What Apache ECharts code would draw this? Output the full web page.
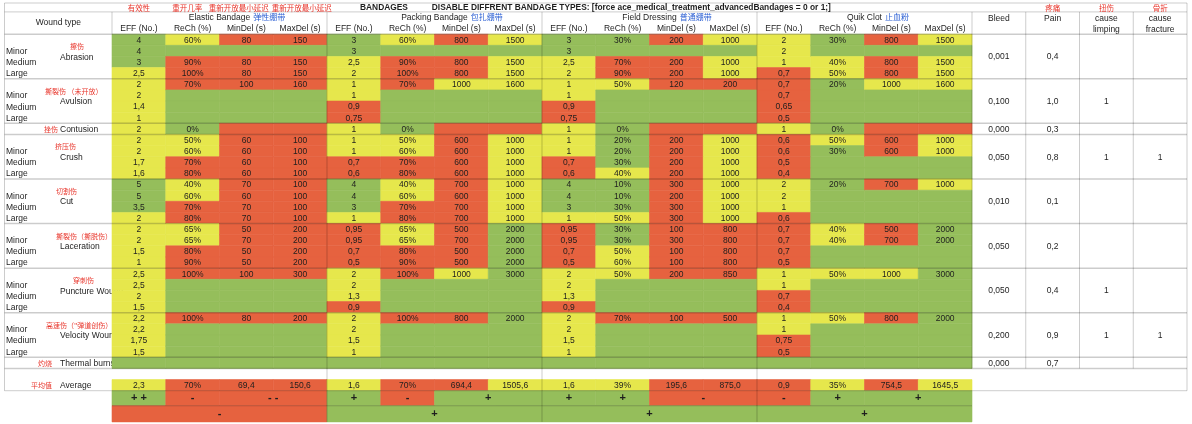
<!DOCTYPE html>
<html>
<head>
<meta charset="utf-8">
<script src="https://cdn.jsdelivr.net/npm/echarts@6.0.0/dist/echarts.min.js"></script>
<style>
	html, body { margin: 0; padding: 0; background: #fff; }
	#chart { width: 1192px; height: 424px; }
</style>
</head>
<body>
<div id="chart"></div>
<script>
const _ = null

// Rows of the sheet
const woundTypes = ['Abrasion', 'Avulsion', 'Contusion', 'Crush', 'Cut', 'Laceration', 'Puncture Wound', 'Velocity Wound', 'Thermal burns']
const woundTypesCn = ['擦伤', '撕裂伤 （未开放）', '挫伤', '挤压伤', '切割伤', '撕裂伤（撕脱伤）', '穿刺伤', '高速伤（"弹道创伤）', '灼烧']
const woundRows = [4, 4, 1, 4, 4, 4, 4, 4, 1]
const severities = ['Minor', 'Medium', 'Large']

// Column groups
const bandages = ['Elastic Bandage', 'Packing Bandage', 'Field Dressing', 'Quik Clot']
const bandagesCn = ['弹性绷带', '包扎绷带', '普通绷带', '止血粉']
const metrics = ['EFF (No.)', 'ReCh (%)', 'MinDel (s)', 'MaxDel (s)']
const metricsCn = ['有效性', '重开几率', '重新开放最小延迟', '重新开放最小延迟']
const effects = [['Bleed'], ['Pain'], ['cause', 'limping'], ['cause', 'fracture']]
const effectsCn = ['', '疼痛', '扭伤', '骨折']

// Elastic Bandage (ratings: g = green, y = yellow, r = red)
const elasticEff = [4, 4, 3, 2.5, 2, 2, 1.4, 1, 2, 2, 2, 1.7, 1.6, 5, 5, 3.5, 2, 2, 2, 1.5, 1, 2.5, 2.5, 2, 1.5, 2.2, 2.2, 1.75, 1.5, _]
const elasticEffRating = 'gggy yyyy y yyyy gggy yyyy yyyy yyyy g'
const elasticReCh = [60, _, 90, 100, 70, _, _, _, 0, 50, 60, 70, 80, 40, 60, 70, 80, 65, 65, 80, 90, 100, _, _, _, 100, _, _, _, _]
const elasticReChRating = 'ygrr rggg g yyrr yyrr yyrr rggg rggg g'
const elasticMinDel = [80, _, 80, 80, 100, _, _, _, _, 60, 60, 60, 60, 70, 60, 70, 70, 50, 70, 50, 50, 100, _, _, _, 80, _, _, _, _]
const elasticMinDelRating = 'rgrr rggg r rrrr rrrr rrrr rggg rggg g'
const elasticMaxDel = [150, _, 150, 150, 160, _, _, _, _, 100, 100, 100, 100, 100, 100, 100, 100, 200, 200, 200, 200, 300, _, _, _, 200, _, _, _, _]
const elasticMaxDelRating = 'rgrr rggg r rrrr rrrr rrrr rggg rggg g'

// Packing Bandage
const packingEff = [3, 3, 2.5, 2, 1, 1, 0.9, 0.75, 1, 1, 1, 0.7, 0.6, 4, 4, 3, 1, 0.95, 0.95, 0.7, 0.5, 2, 2, 1.3, 0.9, 2, 2, 1.5, 1, _]
const packingEffRating = 'ggyy yyrr y yyrr gggy rrrr yyyr yyyy g'
const packingReCh = [60, _, 90, 100, 70, _, _, _, 0, 50, 60, 70, 80, 40, 60, 70, 80, 65, 65, 80, 90, 100, _, _, _, 100, _, _, _, _]
const packingReChRating = 'ygrr rggg g yyrr yyrr yyrr rggg rggg g'
const packingMinDel = [800, _, 800, 800, 1000, _, _, _, _, 600, 600, 600, 600, 700, 600, 700, 700, 500, 700, 500, 500, 1000, _, _, _, 800, _, _, _, _]
const packingMinDelRating = 'rgrr yggg r rrrr rrrr rrrr yggg rggg g'
const packingMaxDel = [1500, _, 1500, 1500, 1600, _, _, _, _, 1000, 1000, 1000, 1000, 1000, 1000, 1000, 1000, 2000, 2000, 2000, 2000, 3000, _, _, _, 2000, _, _, _, _]
const packingMaxDelRating = 'ygyy yggg r yyyy yyyy gggg gggg gggg g'

// Field Dressing
const fieldEff = [3, 3, 2.5, 2, 1, 1, 0.9, 0.75, 1, 1, 1, 0.7, 0.6, 4, 4, 3, 1, 0.95, 0.95, 0.7, 0.5, 2, 2, 1.3, 0.9, 2, 2, 1.5, 1, _]
const fieldEffRating = 'ggyy yyrr y yyrr gggy rrrr yyyr yyyy g'
const fieldReCh = [30, _, 70, 90, 50, _, _, _, 0, 20, 20, 30, 40, 10, 10, 30, 50, 30, 30, 50, 60, 50, _, _, _, 70, _, _, _, _]
const fieldReChRating = 'ggrr yggg g gggy gggy ggyy yggg rggg g'
const fieldMinDel = [200, _, 200, 200, 120, _, _, _, _, 200, 200, 200, 200, 300, 200, 300, 300, 100, 300, 100, 100, 200, _, _, _, 100, _, _, _, _]
const fieldMinDelRating = 'rgrr rggg r rrrr rrrr rrrr rggg rggg g'
const fieldMaxDel = [1000, _, 1000, 1000, 200, _, _, _, _, 1000, 1000, 1000, 1000, 1000, 1000, 1000, 1000, 800, 800, 800, 800, 850, _, _, _, 500, _, _, _, _]
const fieldMaxDelRating = 'ygyy rggg r yyyy yyyy rrrr rggg rggg g'

// Quik Clot
const quikEff = [2, 2, 1, 0.7, 0.7, 0.7, 0.65, 0.5, 1, 0.6, 0.6, 0.5, 0.4, 2, 2, 1, 0.6, 0.7, 0.7, 0.7, 0.5, 1, 1, 0.7, 0.4, 1, 1, 0.75, 0.5, _]
const quikEffRating = 'yyyr rrrr y rrrr yyyr rrrr yyrr yyrr g'
const quikReCh = [30, _, 40, 50, 20, _, _, _, 0, 50, 30, _, _, 20, _, _, _, 40, 40, _, _, 50, _, _, _, 50, _, _, _, _]
const quikReChRating = 'ggyy gggg g yggg gggg yygg yggg yggg g'
const quikMinDel = [800, _, 800, 800, 1000, _, _, _, _, 600, 600, _, _, 700, _, _, _, 500, 700, _, _, 1000, _, _, _, 800, _, _, _, _]
const quikMinDelRating = 'rgrr yggg r rrgg rggg rrgg yggg rggg g'
const quikMaxDel = [1500, _, 1500, 1500, 1600, _, _, _, _, 1000, 1000, _, _, 1000, _, _, _, 2000, 2000, _, _, 3000, _, _, _, 2000, _, _, _, _]
const quikMaxDelRating = 'ygyy yggg r yygg yggg gggg gggg gggg g'

// Averages per bandage
const elasticAvg = [2.3, 70, 69.4, 150.6]
const packingAvg = [1.6, 70, 694.4, 1505.6]
const fieldAvg = [1.6, 39, 195.6, 875.0]
const quikAvg = [0.9, 35, 754.5, 1645.5]
const averageRatings = ['yrrr', 'yrry', 'yyrr', 'ryry']

// Verdicts
const effVerdict = ['+ +', '+', '+', '-']
const rechVerdict = ['-', '-', '+', '+']
const delayVerdict = ['- -', '+', '-', '+']
const overallVerdict = ['-', '+', '+', '+']

// Side effects per wound type
const bleed = [0.001, 0.100, 0.000, 0.050, 0.010, 0.050, 0.050, 0.200, 0.000]
const pain = [0.4, 1.0, 0.3, 0.8, 0.1, 0.2, 0.4, 0.9, 0.7]
const limping = [_, 1, _, 1, _, _, 1, 1, _]
const fracture = [_, _, _, 1, _, _, _, 1, _]

// ---- layout (row units / column units) ----
const HEAD = 2.8
const DATA_END = HEAD + 30
const AVG_Y0 = DATA_END + 1
const AVG_Y1 = AVG_Y0 + 1
const SIGN_Y1 = AVG_Y1 + 1.35
const TOTAL = SIGN_Y1 + 1.45
const cnLabelAnchor = [[65.5, 'left'], [40.5, 'left'], [53.5, 'right'], [50.5, 'left'], [51.5, 'left'], [51.5, 'left'], [68.5, 'left'], [41.5, 'left'], [47.5, 'right']]
const cnMetricX = [2.5, 3.4, 4.36, 5.53]

const palette = { g: '#95be5b', y: '#e6e74c', r: '#e6623f' }
const FONT = '"Liberation Sans", Arial, sans-serif'
const CJK = '"Noto Sans CJK SC", sans-serif'
const TEXT = '#1e1e1e'
const RED_TXT = '#e8352b'
const BLUE_TXT = '#2b5fd3'

const bandageColumns = [
	[[elasticEff, elasticEffRating], [elasticReCh, elasticReChRating], [elasticMinDel, elasticMinDelRating], [elasticMaxDel, elasticMaxDelRating]],
	[[packingEff, packingEffRating], [packingReCh, packingReChRating], [packingMinDel, packingMinDelRating], [packingMaxDel, packingMaxDelRating]],
	[[fieldEff, fieldEffRating], [fieldReCh, fieldReChRating], [fieldMinDel, fieldMinDelRating], [fieldMaxDel, fieldMaxDelRating]],
	[[quikEff, quikEffRating], [quikReCh, quikReChRating], [quikMinDel, quikMinDelRating], [quikMaxDel, quikMaxDelRating]],
]
const averages = [elasticAvg, packingAvg, fieldAvg, quikAvg]

const fmt = (m, v, avg) => {
	if (v == null) return ''
	if (m === 1) return v + '%'
	if (avg) return v.toFixed(1).replace('.', ',')
	return String(v).replace('.', ',')
}

// group start rows
const groupTop = []
woundRows.reduce((acc, n, i) => { groupTop[i] = HEAD + acc; return acc + n }, 0)

// ---- coloured cells ----
var cells = []
bandageColumns.forEach((cols, b) => {
	cols.forEach(([values, rating], m) => {
		const x = 2 + b * 4 + m
		const codes = rating.replace(/ /g, '')
		values.forEach((v, r) => {
			cells.push({ x0: x, x1: x + 1, y0: HEAD + r, y1: HEAD + r + 1, fill: palette[codes[r]], text: fmt(m, v) })
		})
		cells.push({ x0: x, x1: x + 1, y0: AVG_Y0, y1: AVG_Y1, fill: palette[averageRatings[b][m]], text: fmt(m, averages[b][m], true) })
	})
	const base = 2 + b * 4
	const sign = (t) => (t.indexOf('-') >= 0 ? palette.r : palette.g)
	cells.push({ x0: base, x1: base + 1, y0: AVG_Y1, y1: SIGN_Y1, fill: sign(effVerdict[b]), text: effVerdict[b], big: true })
	cells.push({ x0: base + 1, x1: base + 2, y0: AVG_Y1, y1: SIGN_Y1, fill: sign(rechVerdict[b]), text: rechVerdict[b], big: true })
	cells.push({ x0: base + 2, x1: base + 4, y0: AVG_Y1, y1: SIGN_Y1, fill: sign(delayVerdict[b]), text: delayVerdict[b], big: true })
	cells.push({ x0: base, x1: base + 4, y0: SIGN_Y1, y1: TOTAL, fill: sign(overallVerdict[b]), text: overallVerdict[b], big: true })
})

// side effect columns (white, merged per wound type)
;[bleed, pain, limping, fracture].forEach((col, k) => {
	col.forEach((v, g) => {
		let t = ''
		if (v != null) t = k === 0 ? v.toFixed(3).replace('.', ',') : k === 1 ? v.toFixed(1).replace('.', ',') : String(v)
		cells.push({ x0: 18 + k, x1: 19 + k, y0: groupTop[g], y1: groupTop[g] + woundRows[g], fill: null, text: t })
	})
})

// ---- texts (x, y in units; dx in px) ----
var lowTexts = []   // drawn under the cells (clipped wound names)
var texts = []
woundTypes.forEach((name, g) => {
	const top = groupTop[g]
	const [cx, calign] = cnLabelAnchor[g]
	if (woundRows[g] > 1) {
		lowTexts.push({ x: 0, y: top + 2.07, dx: 55.5, text: name, align: 'left', font: '8.5px ' + FONT, color: TEXT })
		lowTexts.push({ x: 0, y: top + 1.1, dx: cx, text: woundTypesCn[g], align: calign, font: '7px ' + CJK, color: RED_TXT })
		severities.forEach((s, i) => {
			lowTexts.push({ x: 0, y: top + 1.55 + i, dx: 1.5, text: s, align: 'left', font: '8.5px ' + FONT, color: TEXT })
		})
	} else {
		lowTexts.push({ x: 0, y: top + 0.55, dx: 55.5, text: name, align: 'left', font: '8.5px ' + FONT, color: TEXT })
		lowTexts.push({ x: 0, y: top + 0.5, dx: cx, text: woundTypesCn[g], align: calign, font: '7px ' + CJK, color: RED_TXT })
	}
})
lowTexts.push({ x: 0, y: AVG_Y0 + 0.55, dx: 55.5, text: 'Average', align: 'left', font: '8.5px ' + FONT, color: TEXT })
lowTexts.push({ x: 0, y: AVG_Y0 + 0.5, dx: 47.5, text: '平均值', align: 'right', font: '7px ' + CJK, color: RED_TXT })

// header
texts.push({ x: 1, y: 1.8, text: 'Wound type', align: 'center', font: '8.5px ' + FONT, color: TEXT })
metricsCn.forEach((t, m) => texts.push({ x: cnMetricX[m], y: 0.42, text: t, align: 'center', font: '7.5px ' + CJK, color: RED_TXT }))
texts.push({ x: 7.06, y: 0.42, text: 'BANDAGES', align: 'center', font: 'bold 8.4px ' + FONT, color: TEXT })
texts.push({ x: 7.95, y: 0.42, text: 'DISABLE DIFFRENT BANDAGE TYPES: [force ace_medical_treatment_advancedBandages = 0 or 1;]', align: 'left', font: 'bold 8.4px ' + FONT, color: TEXT })

const measure = document.createElement('canvas').getContext('2d')
measure.font = '8.5px ' + FONT
bandages.forEach((name, b) => {
	const cx = 4 + b * 4
	texts.push({ x: cx, y: 1.32, text: name, align: 'center', font: '8.5px ' + FONT, color: TEXT })
	texts.push({ x: cx, y: 1.28, dx: measure.measureText(name).width / 2 + 3, text: bandagesCn[b], align: 'left', font: '8px ' + CJK, color: BLUE_TXT })
	metrics.forEach((t, m) => texts.push({ x: 2.5 + b * 4 + m, y: 2.33, text: t, align: 'center', font: '8.5px ' + FONT, color: TEXT }))
})
effects.forEach((lines, k) => {
	lines.forEach((t, i) => texts.push({ x: 18.5 + k, y: 1.38 + i, text: t, align: 'center', font: '8.5px ' + FONT, color: TEXT }))
	if (effectsCn[k]) texts.push({ x: 18.5 + k, y: 0.42, text: effectsCn[k], align: 'center', font: '7.5px ' + CJK, color: RED_TXT })
})

// ---- grid lines ----
var lines = []
const hLine = (y, x0, x1, w) => lines.push({ x0, y0: y, x1, y1: y, w: w || 1 })
const vLine = (x, y0, y1, w) => lines.push({ x0: x, y0, x1: x, y1, w: w || 1 })
hLine(0, 0, 22)
hLine(0.8, 0, 22)
hLine(HEAD, 0, 22, 1.6)
groupTop.slice(1).forEach((y) => hLine(y, 0, 22, 1.5))
hLine(DATA_END, 0, 22, 1.5)
hLine(AVG_Y1, 0, 2)
hLine(AVG_Y1, 18, 22)
hLine(AVG_Y1, 2, 18)
hLine(SIGN_Y1, 2, 18)
vLine(0, 0, AVG_Y1)
vLine(22, 0, AVG_Y1)
vLine(2, 0.8, HEAD)
;[6, 10, 14].forEach((x) => vLine(x, 0.8, TOTAL))
;[18, 19, 20, 21].forEach((x) => vLine(x, 0.8, DATA_END))

// ---- render helpers ----
function renderCell(params, api) {
	const c = cells[params.dataIndex]
	const p0 = api.coord([c.x0, c.y0])
	const p1 = api.coord([c.x1, c.y1])
	const children = []
	if (c.fill) {
		children.push({
			type: 'rect',
			shape: { x: p0[0], y: p0[1], width: p1[0] - p0[0], height: p1[1] - p0[1] },
			style: { fill: c.fill, stroke: c.fill, lineWidth: 0.6 },
		})
	}
	if (c.text) {
		children.push({
			type: 'text',
			style: {
				text: c.text,
				x: (p0[0] + p1[0]) / 2,
				y: (p0[1] + p1[1]) / 2 + (c.big ? 0 : 0.5),
				align: 'center', verticalAlign: 'middle',
				textAlign: 'center', textVerticalAlign: 'middle',
				font: c.big ? 'bold 11px ' + FONT : '8.5px ' + FONT,
				fill: TEXT,
			},
		})
	}
	return { type: 'group', children }
}

function textRenderer(list) {
	return (params, api) => {
		const t = list[params.dataIndex]
		const p = api.coord([t.x, t.y])
		return {
			type: 'text',
			style: {
				text: t.text,
				x: p[0] + (t.dx || 0),
				y: p[1],
				align: t.align, verticalAlign: 'middle',
				textAlign: t.align, textVerticalAlign: 'middle',
				font: t.font,
				fill: t.color,
			},
		}
	}
}

function renderLine(params, api) {
	const l = lines[params.dataIndex]
	const p0 = api.coord([l.x0, l.y0])
	const p1 = api.coord([l.x1, l.y1])
	return {
		type: 'line',
		shape: { x1: p0[0], y1: p0[1], x2: p1[0], y2: p1[1] },
		style: { stroke: 'rgba(0,0,0,0.2)', lineWidth: l.w },
	}
}

var chart = echarts.init(document.getElementById('chart'))
chart.setOption({
	animation: false,
	backgroundColor: '#fff',
	grid: { left: 4.5, right: 5, top: 3, bottom: 2.1, containLabel: false, outerBoundsMode: 'none' },
	xAxis: { type: 'value', min: 0, max: 22, show: false },
	yAxis: { type: 'value', min: 0, max: TOTAL, inverse: true, show: false },
	series: [
		{ type: 'custom', silent: true, z: 1, clip: false, renderItem: textRenderer(lowTexts), data: lowTexts.map((t) => [t.x, t.y]) },
		{ type: 'custom', silent: true, z: 2, clip: false, renderItem: renderCell, data: cells.map((c) => [c.x0, c.y0]) },
		{ type: 'custom', silent: true, z: 3, clip: false, renderItem: renderLine, data: lines.map((l) => [l.x0, l.y0]) },
		{ type: 'custom', silent: true, z: 4, clip: false, renderItem: textRenderer(texts), data: texts.map((t) => [t.x, t.y]) },
	],
})
</script>
</body>
</html>
